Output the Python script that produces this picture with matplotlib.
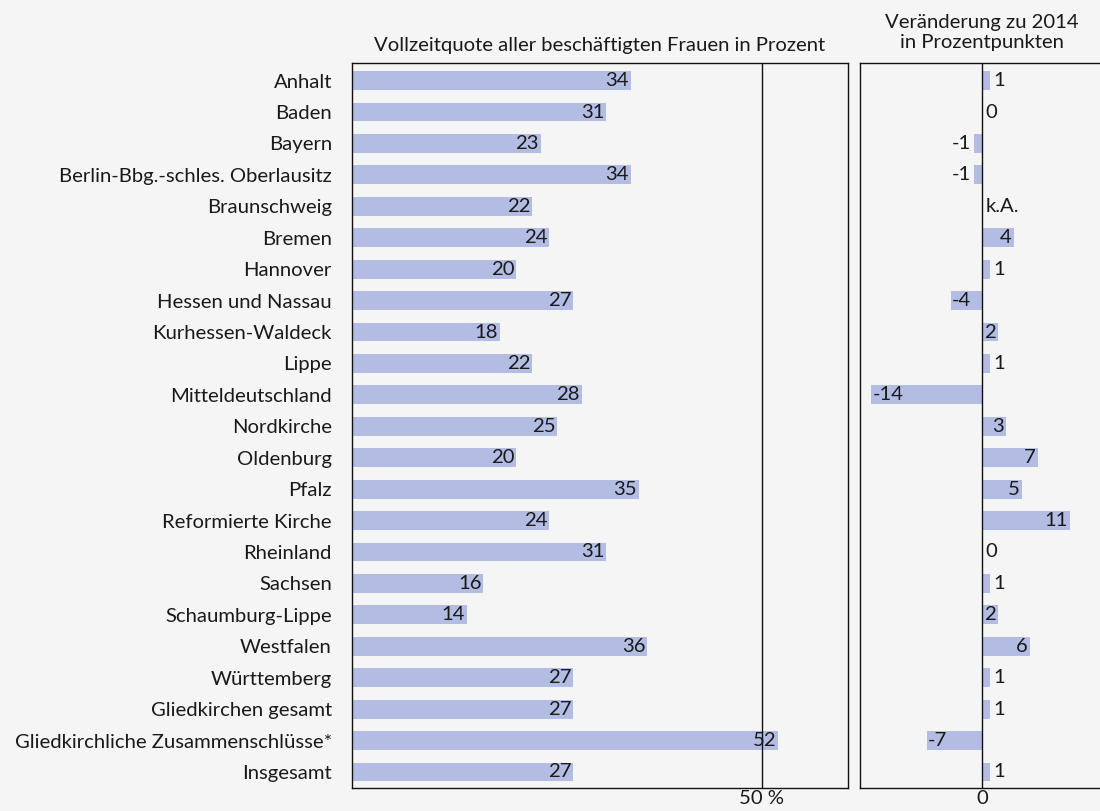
import matplotlib
matplotlib.use("Agg")
import matplotlib.pyplot as plt

categories = ["Anhalt", "Baden", "Bayern", "Berlin-Bbg.-schles. Oberlausitz", "Braunschweig",
              "Bremen", "Hannover", "Hessen und Nassau", "Kurhessen-Waldeck", "Lippe",
              "Mitteldeutschland", "Nordkirche", "Oldenburg", "Pfalz", "Reformierte Kirche",
              "Rheinland", "Sachsen", "Schaumburg-Lippe", "Westfalen", "Württemberg",
              "Gliedkirchen gesamt", "Gliedkirchliche Zusammenschlüsse*", "Insgesamt"]
quote = [34, 31, 23, 34, 22, 24, 20, 27, 18, 22, 28, 25, 20, 35, 24, 31, 16, 14, 36, 27, 27, 52, 27]
change = [1, 0, -1, -1, None, 4, 1, -4, 2, 1, -14, 3, 7, 5, 11, 0, 1, 2, 6, 1, 1, -7, 1]

title_left = "Vollzeitquote aller beschäftigten Frauen in Prozent"
title_right = "Veränderung zu 2014\nin Prozentpunkten"

BG = "#f5f5f5"
BAR = "#b3bde3"
TXT = "#1a1a1a"
FS = 14.6
plt.rcParams['font.family'] = ['Lato', 'DejaVu Sans']

W, H = 1100, 811
fig = plt.figure(figsize=(W / 100, H / 100), dpi=100, facecolor=BG)

top = 1 - 63.3 / H
bot = 1 - 787.7 / H
ax1 = fig.add_axes([352 / W, bot, (848 - 352) / W, top - bot])
ax2 = fig.add_axes([860 / W, bot, (1112 - 860) / W, top - bot])

n = len(categories)
y = list(range(n))

for ax in (ax1, ax2):
    ax.set_facecolor(BG)
    ax.set_ylim(n - 0.5, -0.55)
    for s in ax.spines.values():
        s.set_linewidth(1.0)
        s.set_color("#111111")
    ax.tick_params(axis="both", length=0, labelsize=FS, colors=TXT)

# left panel
ax1.barh(y, quote, height=0.6, color=BAR, zorder=1)
ax1.set_xlim(0, 60.5)
ax1.axvline(50, color="#111111", lw=1.0, zorder=2)
ax1.set_yticks(y)
ax1.set_yticklabels(categories, fontsize=FS, color=TXT)
ax1.tick_params(axis="y", pad=14.5)
ax1.set_xticks([50])
ax1.set_xticklabels(["50 %"])
ax1.tick_params(axis="x", pad=2)
for yi, v in zip(y, quote):
    ax1.annotate(str(v), (v, yi), xytext=(-1.2, 0), textcoords="offset points",
                 ha="right", va="center", fontsize=FS, color=TXT, zorder=3)
ax1.set_title(title_left, fontsize=FS, color=TXT, pad=9)

# right panel
vals = [0 if c is None else c for c in change]
ax2.barh(y, vals, height=0.6, color=BAR, zorder=1)
ax2.set_xlim(-15.42, 16.35)
ax2.axvline(0, color="#111111", lw=1.0, zorder=2)
ax2.spines["right"].set_visible(False)
ax2.set_yticks([])
ax2.set_xticks([0])
ax2.set_xticklabels(["0"])
ax2.tick_params(axis="x", pad=2)
for yi, c in zip(y, change):
    if c is None:
        ax2.annotate("k.A.", (0, yi), xytext=(2.2, 0), textcoords="offset points",
                     ha="left", va="center", fontsize=FS, color=TXT, zorder=3)
    elif c >= 2:
        ax2.annotate(str(c), (c, yi), xytext=(-1.5, 0), textcoords="offset points",
                     ha="right", va="center", fontsize=FS, color=TXT, zorder=3)
    elif c >= 0:
        ax2.annotate(str(c), (c, yi), xytext=(2.2, 0), textcoords="offset points",
                     ha="left", va="center", fontsize=FS, color=TXT, zorder=3)
    elif c <= -2:
        ax2.annotate(str(c), (c, yi), xytext=(1, 0), textcoords="offset points",
                     ha="left", va="center", fontsize=FS, color=TXT, zorder=3)
    else:
        ax2.annotate(str(c), (c, yi), xytext=(-2.2, 0), textcoords="offset points",
                     ha="right", va="center", fontsize=FS, color=TXT, zorder=3)
ax2.annotate(title_right, (0, 1), xycoords=("data", "axes fraction"), xytext=(0, 9),
             textcoords="offset points", ha="center", va="bottom", fontsize=FS,
             color=TXT, linespacing=1.2)

fig.savefig("out.png", dpi=100, facecolor=BG)
